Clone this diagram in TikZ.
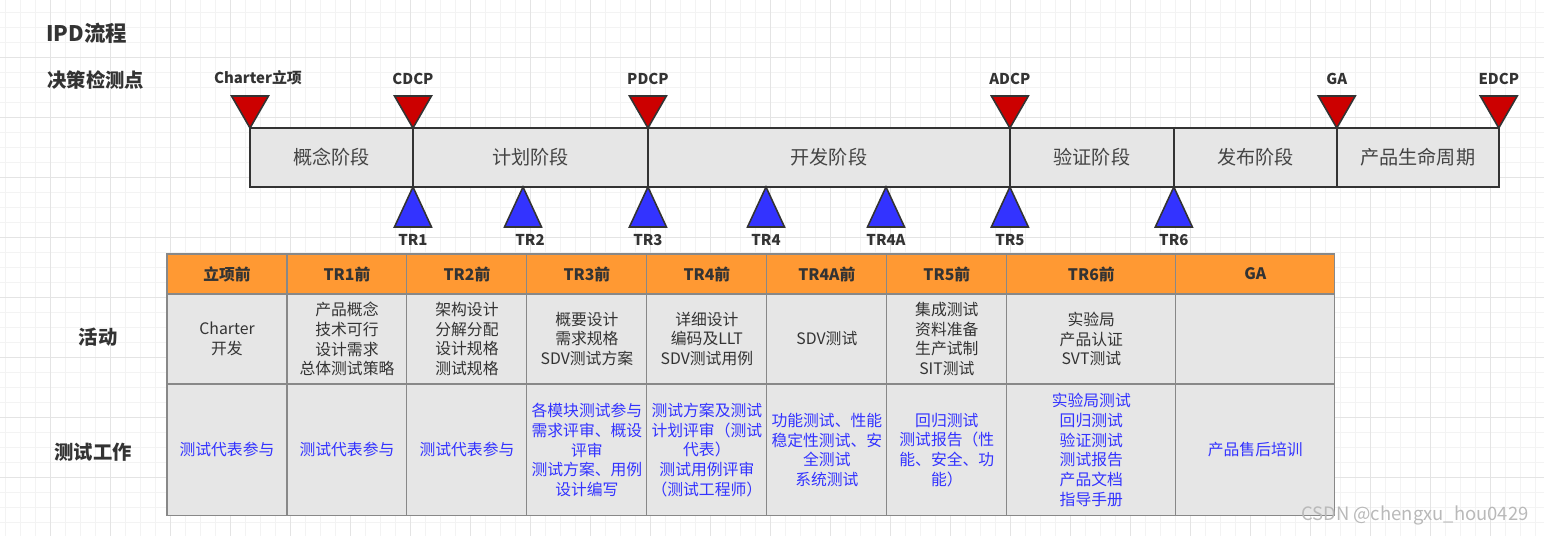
\documentclass[tikz,border=0pt]{standalone}
\usepackage{fontspec}
\setmainfont{Noto Sans CJK SC}
\usepackage{xcolor}
\usetikzlibrary{shapes.geometric, positioning}
\definecolor{ipdgray}{HTML}{E6E6E6}
\definecolor{ipdline}{HTML}{333333}
\definecolor{ipdred}{HTML}{CC0000}
\definecolor{ipdblue}{HTML}{3333FF}
\definecolor{ipdorange}{HTML}{FF9933}
\definecolor{ipdtext}{HTML}{333333}
\definecolor{ipdphase}{HTML}{444444}
\definecolor{ipdcell}{HTML}{888888}
\definecolor{gridminor}{HTML}{F3F3F3}
\definecolor{gridmajor}{HTML}{E4E4E4}
\tikzstyle{phase} = [
    rectangle,
    minimum height=1.18cm,
    inner sep=0pt,
    outer sep=0pt,
    draw=ipdline,
    line width=1.3pt,
    fill=ipdgray,
    text=ipdphase,
    font=\fontsize{10.9}{13}\selectfont
]
\tikzstyle{decision} = [
    regular polygon,
    regular polygon sides=3,
    shape border rotate=180,
    minimum size=0.854cm,
    inner sep=0pt,
    outer sep=0pt,
    draw=ipdline,
    line width=0.9pt,
    fill=ipdred,
    anchor=corner 1
]
\tikzstyle{review} = [
    isosceles triangle,
    isosceles triangle stretches,
    shape border rotate=90,
    minimum width=0.74cm,
    minimum height=0.8cm,
    inner sep=0pt,
    outer sep=0pt,
    draw=ipdline,
    line width=0.9pt,
    fill=ipdblue,
    anchor=apex
]
\tikzstyle{marklabel} = [
    inner sep=0pt,
    text=ipdtext,
    font=\bfseries\fontsize{8.5}{10}\selectfont
]
\tikzstyle{rowlabel} = [
    inner sep=0pt,
    text=ipdtext,
    font=\bfseries\fontsize{11}{13}\selectfont
]
\tikzstyle{headcell} = [
    rectangle,
    minimum width=2.4cm,
    minimum height=0.8cm,
    inner sep=0pt,
    outer sep=0pt,
    draw=ipdcell,
    line width=0.6pt,
    fill=ipdorange,
    text=ipdtext,
    font=\bfseries\fontsize{9}{11}\selectfont
]
\tikzstyle{actcell} = [
    rectangle,
    minimum width=2.4cm,
    minimum height=1.8cm,
    inner sep=0pt,
    outer sep=0pt,
    align=center,
    draw=ipdcell,
    line width=0.6pt,
    fill=ipdgray,
    text=ipdtext,
    font=\fontsize{9}{11.3}\selectfont
]
\tikzstyle{testcell} = [
    actcell,
    minimum height=2.64cm,
    text=ipdblue
]

\begin{document}
\begin{tikzpicture}[x=0.02cm, y=-0.02cm]

\useasboundingbox (0,0) rectangle (1544,536);

% Canvas grid
\foreach \gx in {5.7,20.7,...,1544}
    \draw [gridminor, line width=0.5pt] (\gx,0) -- (\gx,536);
\foreach \gy in {12.3,27.3,...,536}
    \draw [gridminor, line width=0.5pt] (0,\gy) -- (1544,\gy);
\foreach \gx in {50.7,110.7,...,1544}
    \draw [gridmajor, line width=0.6pt] (\gx,0) -- (\gx,536);
\foreach \gy in {57.3,117.3,...,536}
    \draw [gridmajor, line width=0.6pt] (0,\gy) -- (1544,\gy);

% Titles
\node (title) [anchor=west, inner sep=0pt, text=ipdtext, font=\bfseries\fontsize{12.2}{14}\selectfont] at (46,33) {IPD流程};
\node (checkrow) [rowlabel, anchor=west] at (47,80) {决策检测点};
\node (actrow) [rowlabel] at (98,337) {活动};
\node (testrow) [rowlabel] at (93,452) {测试工作};

% Phases
\node (concept) [phase, minimum width=3.26cm, anchor=north west] at (250,128) {概念阶段};
\node (plan) [phase, minimum width=4.7cm, right=0pt of concept] {计划阶段};
\node (develop) [phase, minimum width=7.24cm, right=0pt of plan] {开发阶段};
\node (verify) [phase, minimum width=3.28cm, right=0pt of develop] {验证阶段};
\node (release) [phase, minimum width=3.26cm, right=0pt of verify] {发布阶段};
\node (lifecycle) [phase, minimum width=3.24cm, right=0pt of release] {产品生命周期};

% Decision checkpoints
\node (charter) [decision] at (concept.north west) {};
\node (cdcp) [decision] at (concept.north east) {};
\node (pdcp) [decision] at (plan.north east) {};
\node (adcp) [decision] at (develop.north east) {};
\node (ga) [decision] at (release.north east) {};
\node (edcp) [decision] at (lifecycle.north east) {};

\node (charterlabel) [marklabel, above=6pt of charter, xshift=0.16cm] {Charter立项};
\node (cdcplabel) [marklabel, above=6pt of cdcp] {CDCP};
\node (pdcplabel) [marklabel, above=6pt of pdcp] {PDCP};
\node (adcplabel) [marklabel, above=6pt of adcp] {ADCP};
\node (galabel) [marklabel, above=6pt of ga] {GA};
\node (edcplabel) [marklabel, above=6pt of edcp] {EDCP};

% Technical reviews
\node (tr1) [review] at (concept.south east) {};
\node (tr2) [review] at (523,187) {};
\node (tr3) [review] at (plan.south east) {};
\node (tr4) [review] at (766,187) {};
\node (tr4a) [review] at (886,187) {};
\node (tr5) [review] at (develop.south east) {};
\node (tr6) [review] at (verify.south east) {};

\node (tr1label) [marklabel, below=4pt of tr1.lower side] {TR1};
\node (tr2label) [marklabel, below=4pt of tr2.lower side, xshift=0.14cm] {TR2};
\node (tr3label) [marklabel, below=4pt of tr3.lower side] {TR3};
\node (tr4label) [marklabel, below=4pt of tr4.lower side] {TR4};
\node (tr4alabel) [marklabel, below=4pt of tr4a.lower side] {TR4A};
\node (tr5label) [marklabel, below=4pt of tr5.lower side] {TR5};
\node (tr6label) [marklabel, below=4pt of tr6.lower side] {TR6};

% Table header
\node (h1) [headcell, anchor=north west] at (167,254) {立项前};
\node (h2) [headcell, right=0pt of h1] {TR1前};
\node (h3) [headcell, right=0pt of h2] {TR2前};
\node (h4) [headcell, right=0pt of h3] {TR3前};
\node (h5) [headcell, right=0pt of h4] {TR4前};
\node (h6) [headcell, right=0pt of h5] {TR4A前};
\node (h7) [headcell, right=0pt of h6] {TR5前};
\node (h8) [headcell, minimum width=3.38cm, right=0pt of h7] {TR6前};
\node (h9) [headcell, minimum width=3.18cm, right=0pt of h8] {GA};

% Activities
\node (a1) [actcell, below=0pt of h1] {Charter\\开发};
\node (a2) [actcell, below=0pt of h2] {产品概念\\技术可行\\设计需求\\总体测试策略};
\node (a3) [actcell, below=0pt of h3] {架构设计\\分解分配\\设计规格\\测试规格};
\node (a4) [actcell, below=0pt of h4] {概要设计\\需求规格\\SDV测试方案};
\node (a5) [actcell, below=0pt of h5] {详细设计\\编码及LLT\\SDV测试用例};
\node (a6) [actcell, below=0pt of h6] {SDV测试};
\node (a7) [actcell, below=0pt of h7] {集成测试\\资料准备\\生产试制\\SIT测试};
\node (a8) [actcell, minimum width=3.38cm, below=0pt of h8] {实验局\\产品认证\\SVT测试};
\node (a9) [actcell, minimum width=3.18cm, below=0pt of h9] {};

% Test work
\node (t1) [testcell, below=0pt of a1] {测试代表参与};
\node (t2) [testcell, below=0pt of a2] {测试代表参与};
\node (t3) [testcell, below=0pt of a3] {测试代表参与};
\node (t4) [testcell, below=0pt of a4] {各模块测试参与\\需求评审、概设\\评审\\测试方案、用例\\设计编写};
\node (t5) [testcell, below=0pt of a5] {测试方案及测试\\计划评审（测试\\代表）\\测试用例评审\\（测试工程师）};
\node (t6) [testcell, below=0pt of a6] {功能测试、性能\\稳定性测试、安\\全测试\\系统测试};
\node (t7) [testcell, below=0pt of a7] {回归测试\\测试报告（性\\能、安全、功\\能）};
\node (t8) [testcell, minimum width=3.38cm, below=0pt of a8] {实验局测试\\回归测试\\验证测试\\测试报告\\产品文档\\指导手册};
\node (t9) [testcell, minimum width=3.18cm, below=0pt of a9] {产品售后培训};

% Watermark
\node (watermark) [anchor=east, inner sep=0pt, text=gray!55, font=\fontsize{10.5}{12}\selectfont] at (1529,515) {CSDN @chengxu\_hou0429};

\end{tikzpicture}
\end{document}
